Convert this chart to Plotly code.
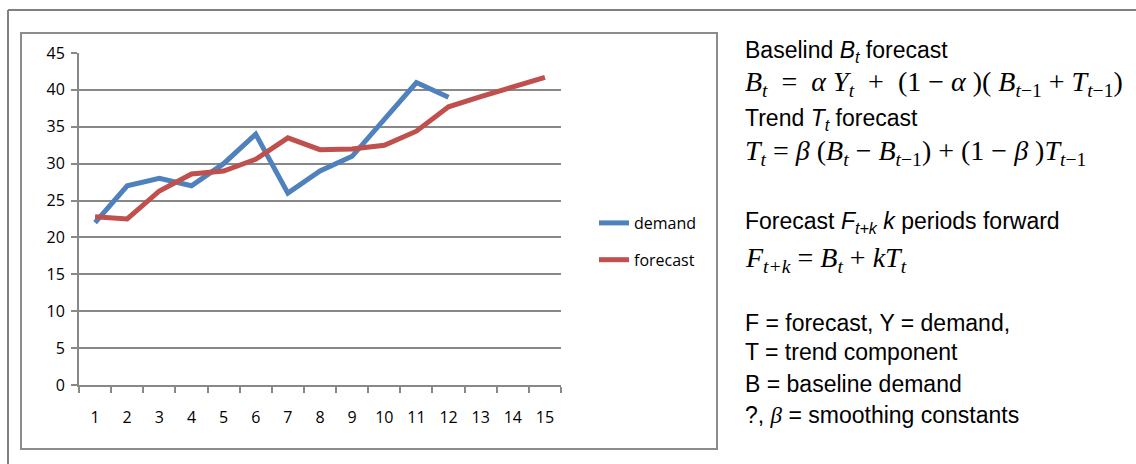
import plotly.graph_objects as go

periods = [str(i) for i in range(1, 16)]
demand = [22, 27, 28, 27, 30, 34, 26, 29, 31, 36, 41, 39]
forecast = [22.8, 22.5, 26.3, 28.6, 29.0, 30.6, 33.5, 31.9, 32.0, 32.5, 34.4, 37.7, 39.1, 40.4, 41.7]
y_ticks = [0, 5, 10, 15, 20, 25, 30, 35, 40, 45]

W, H = 1136, 464
GRID = "#888888"
BLUE = "#4F81BD"
RED = "#C0504D"


def px(x):
    return x / W


def py(y):
    return 1 - y / H


fig = go.Figure()
fig.add_trace(go.Scatter(x=periods[:len(demand)], y=demand, name="demand", mode="lines",
                         line=dict(color=BLUE, width=5), legendgroup="a"))
fig.add_trace(go.Scatter(x=periods, y=forecast, name="forecast", mode="lines",
                         line=dict(color=RED, width=5), legendgroup="b"))

shapes = [
    # outer frame (top and left edges visible)
    dict(type="line", xref="paper", yref="paper", x0=px(8), x1=px(1140), y0=py(10), y1=py(10),
         line=dict(color="#808080", width=2)),
    dict(type="line", xref="paper", yref="paper", x0=px(8), x1=px(8), y0=py(10), y1=py(470),
         line=dict(color="#808080", width=2)),
    # chart frame
    dict(type="rect", xref="paper", yref="paper", x0=px(21), x1=px(717), y0=py(33), y1=py(449),
         line=dict(color="#8C8C8C", width=2), fillcolor="rgba(0,0,0,0)"),
]

SANS = "Liberation Sans, Arial, sans-serif"
SERIF = "Liberation Serif, Times New Roman, serif"
FS = 23
FF = 28


def ann(text, x, y, font, size):
    return dict(text=text, x=px(x), y=py(y), xref="paper", yref="paper", xanchor="left",
                yanchor="middle", showarrow=False, align="left",
                font=dict(family=font, size=size, color="#000000"))


def it(s):
    return "<i>" + s + "</i>"


f1 = (it("B") + "<sub>" + it("t") + "</sub>  =  " + it("α Y") + "<sub>" + it("t") + "</sub>  +  (1 − "
      + it("α") + " )( " + it("B") + "<sub>" + it("t") + "−1</sub> + " + it("T") + "<sub>"
      + it("t") + "−1</sub>)")
f2 = (it("T") + "<sub>" + it("t") + "</sub> = " + it("β") + " (" + it("B") + "<sub>" + it("t")
      + "</sub> − " + it("B") + "<sub>" + it("t") + "−1</sub>) + (1 − " + it("β") + " )" + it("T")
      + "<sub>" + it("t") + "−1</sub>")
f3 = (it("F") + "<sub>" + it("t+k") + "</sub> = " + it("B") + "<sub>" + it("t") + "</sub> + "
      + it("kT") + "<sub>" + it("t") + "</sub>")

annotations = [
    ann("Baselind " + it("B<sub>t</sub>") + " forecast", 743, 52, SANS, FS),
    ann(f1, 743, 83, SERIF, FF),
    ann("Trend " + it("T<sub>t</sub>") + " forecast", 743, 120, SANS, FS),
    ann(f2, 743, 153, SERIF, FF),
    ann("Forecast " + it("F<sub>t+k</sub> k") + " periods forward", 743, 222, SANS, FS),
    ann(f3, 743, 259, SERIF, FF),
    ann("F = forecast, Y = demand,", 743, 323, SANS, FS),
    ann("T = trend component", 743, 352, SANS, FS),
    ann("B = baseline demand", 743, 384, SANS, FS),
    ann("?, <span style=\"font-family:Liberation Serif\"><i>β</i></span> = smoothing constants",
        743, 415, SANS, FS),
]

fig.update_layout(
    width=W, height=H,
    margin=dict(l=0, r=0, t=0, b=0),
    paper_bgcolor="white", plot_bgcolor="white",
    shapes=shapes, annotations=annotations,
    showlegend=True,
    legend=dict(x=px(594), y=py(206), xanchor="left", yanchor="top", tracegroupgap=13,
                font=dict(family="Open Sans, sans-serif", size=16, color="#000000"),
                bgcolor="rgba(0,0,0,0)", borderwidth=0),
    xaxis=dict(domain=[px(79), px(561)], type="category", categoryorder="array",
               categoryarray=periods, tickvals=periods, ticktext=periods,
               tickson="boundaries", ticks="outside", ticklen=6, tickwidth=2, tickcolor=GRID,
               showline=True, linecolor=GRID, linewidth=2, showgrid=False, zeroline=False,
               ticklabelstandoff=17, automargin=False,
               tickfont=dict(family="Open Sans, sans-serif", size=16, color="#000000"),
               range=[-0.5, 14.5], fixedrange=True),
    yaxis=dict(domain=[py(385), py(53)], range=[0, 45], tickvals=y_ticks,
               ticks="outside", ticklen=6, tickwidth=2, tickcolor=GRID,
               showline=True, linecolor=GRID, linewidth=2, showgrid=True, gridcolor=GRID,
               gridwidth=2, zeroline=False, automargin=False, ticklabelstandoff=3,
               tickfont=dict(family="Open Sans, sans-serif", size=16, color="#000000"),
               fixedrange=True),
)

fig.write_html("out.html", config={"displayModeBar": False},
               post_script="document.body.style.margin='0';")
